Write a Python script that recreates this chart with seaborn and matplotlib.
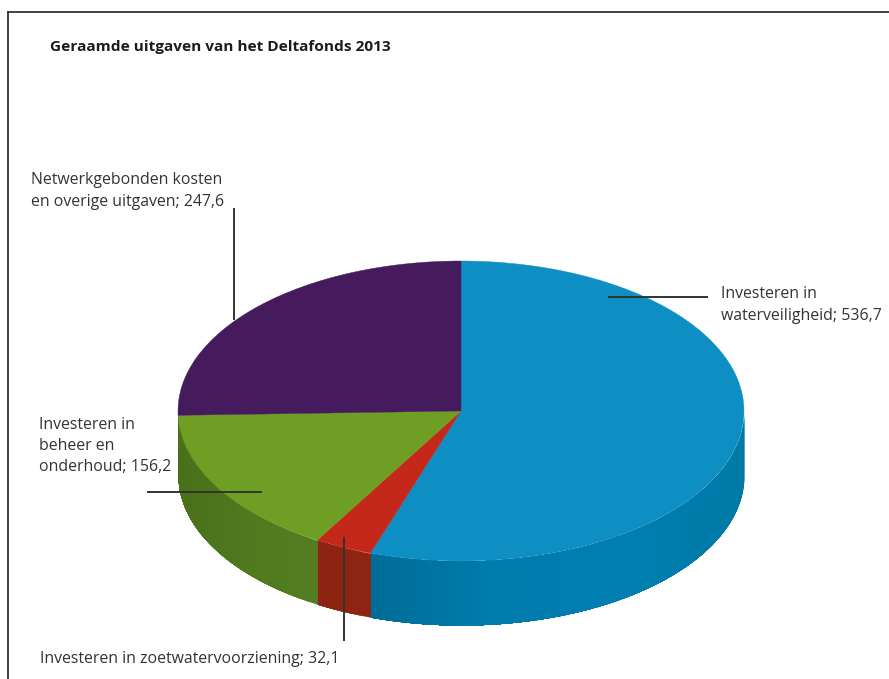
import numpy as np
import matplotlib
matplotlib.use("Agg")
import matplotlib.pyplot as plt
import seaborn as sns

title = "Geraamde uitgaven van het Deltafonds 2013"
categories = [
    "Investeren in\nwaterveiligheid",
    "Investeren in zoetwatervoorziening",
    "Investeren in\nbeheer en\nonderhoud",
    "Netwerkgebonden kosten\nen overige uitgaven",
]
values = [536.7, 32.1, 156.2, 247.6]
top_colors = ["#0d8fc4", "#c3281a", "#6e9e24", "#451b5e"]
wall_colors = [
    ["#006d98", "#007cad", "#007fb0", "#0079a6"],
    ["#8c2412", "#8f2412"],
    ["#4a7019", "#4f7a1e", "#537d20"],
]
label_xy = [(721, 305), (40, 659), (39, 446), (31, 191)]
leaders = [
    ((608, 708), (297, 297)),
    ((344, 344), (537, 641)),
    ((147, 262), (492, 492)),
    ((234, 234), (208, 320)),
]

WIDTH, HEIGHT = 889, 679
CX, CY, RX, RY, DEPTH = 461, 411, 283, 150, 64
INK = "#333333"

sns.set_theme(style="white")
plt.rcParams["font.family"] = ["Open Sans", "DejaVu Sans"]

fig = plt.figure(figsize=(WIDTH / 100, HEIGHT / 100), dpi=100, facecolor="white")

# Pie axes: the unit circle is stretched into the tilted ellipse of the disc.
ax = fig.add_axes([0, 0, 1, 1])
ax.pie(values, colors=sns.color_palette(top_colors), startangle=90,
       counterclock=False, radius=1,
       wedgeprops={"linewidth": 0.3, "zorder": 3})
for wedge, color in zip(ax.patches, top_colors):
    wedge.set_edgecolor(color)
ax.set_aspect("auto")
ax.set_xlim(-CX / RX, (WIDTH - CX) / RX)
ax.set_ylim((CY - HEIGHT) / RY, CY / RY)
ax.axis("off")

# Side wall of the disc: vertical bands shaded from left to right. Each band
# runs on under the next one so that no seams show between them.
depth = DEPTH / RY
edges = np.cumsum([0] + values) / sum(values) * 2 * np.pi
for i, shades in enumerate(wall_colors):
    lo = max(edges[i], np.pi / 2)
    hi = 3 * np.pi / 2 if i == len(wall_colors) - 1 else edges[i + 1]
    steps = np.linspace(lo, hi, max(int((hi - lo) * 30), 2) + 1)
    xmin, xmax = sorted((np.sin(lo), np.sin(hi)))
    palette = sns.blend_palette(shades, 64)
    for a, b in zip(steps[:-1], steps[1:]):
        t = np.linspace(a, hi, 200)
        x, y = np.sin(t), np.cos(t)
        pos = (np.sin((a + b) / 2) - xmin) / max(xmax - xmin, 1e-6)
        shade = palette[int(np.clip(pos, 0, 1) * 63)]
        ax.fill_between(x, y, y - depth, color=shade, linewidth=0, zorder=2 + i * 0.1)

# Overlay in pixel units holds the frame, the leader lines and all text.
ov = fig.add_axes([8 / WIDTH, 0, (WIDTH - 8) / WIDTH, (HEIGHT - 12) / HEIGHT])
ov.patch.set_alpha(0)
ov.set_xlim(8, WIDTH)
ov.set_ylim(HEIGHT, 12)
ov.set_xticks([])
ov.set_yticks([])
sns.despine(ax=ov, top=False, right=True, bottom=True)
for side in ("top", "left"):
    ov.spines[side].set_color(INK)
    ov.spines[side].set_linewidth(1.3)

for xs, ys in leaders:
    ov.plot(xs, ys, color=INK, lw=1.4, solid_capstyle="butt", zorder=5)

ov.text(50, 47, title, fontsize=11.1, fontweight="bold", color="#1c1c1c",
        ha="left", va="center")
for name, value, (x, y) in zip(categories, values, label_xy):
    text = f"{name}; {value:.1f}".replace(".", ",")
    ov.text(x, y, text, fontsize=11.4, color=INK, ha="left", va="center",
            linespacing=1.44)

fig.savefig("out.png", dpi=100, facecolor="white")
